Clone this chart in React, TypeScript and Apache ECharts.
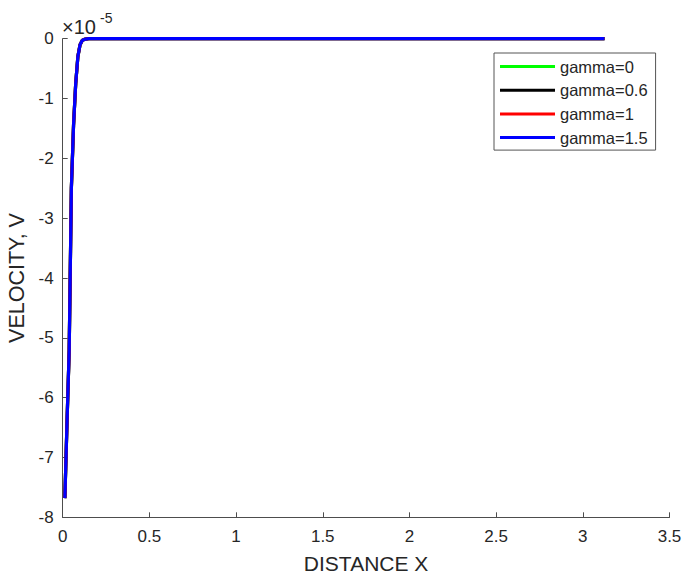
import React, { useEffect, useRef } from "react";
import * as echarts from "echarts";

const xValues = [0.0125, 0.025, 0.0375, 0.05, 0.0625, 0.075, 0.0875, 0.1, 0.1125, 0.125, 0.15, 0.2, 0.3, 0.5, 1.0, 1.5, 2.0, 2.5, 3.0, 3.125];
const vGamma0 = [-7.68, -6.4, -5.2, -2.5, -1.45, -0.75, -0.3, -0.1, -0.03, -0.01, 0, 0, 0, 0, 0, 0, 0, 0, 0, 0];
const vGamma06 = [-7.68, -6.4, -5.2, -2.5, -1.45, -0.75, -0.3, -0.1, -0.03, -0.01, 0, 0, 0, 0, 0, 0, 0, 0, 0, 0];
const vGamma1 = [-7.68, -6.4, -5.2, -2.5, -1.45, -0.75, -0.3, -0.1, -0.03, -0.01, 0, 0, 0, 0, 0, 0, 0, 0, 0, 0];
const vGamma15 = [-7.68, -6.4, -5.2, -2.5, -1.45, -0.75, -0.3, -0.1, -0.03, -0.01, 0, 0, 0, 0, 0, 0, 0, 0, 0, 0];

const seriesNames = ["gamma=0", "gamma=0.6", "gamma=1", "gamma=1.5"];
const seriesColors = ["#00ff00", "#000000", "#ff0000", "#0000ff"];
const seriesValues = [vGamma0, vGamma06, vGamma1, vGamma15];

const FONT = "'Liberation Sans', Arial, Helvetica, sans-serif";
const TEXT = "#262626";
const AXIS = "#4d4d4d";

export default function App() {
  const ref = useRef<HTMLDivElement>(null);
  useEffect(() => {
    if (!ref.current) return;
    const chart = echarts.init(ref.current, undefined, { renderer: "svg" });
    chart.setOption({
      animation: false,
      backgroundColor: "#ffffff",
      grid: { left: 62.7, right: 14.5, top: 38.7, bottom: 57.7, containLabel: false, outerBoundsMode: "none" },
      xAxis: {
        type: "value",
        min: 0,
        max: 3.5,
        interval: 0.5,
        name: "DISTANCE X",
        nameLocation: "middle",
        nameGap: 36,
        nameTextStyle: { color: TEXT, fontSize: 21, fontFamily: FONT },
        axisLine: { show: true, onZero: false, lineStyle: { color: AXIS, width: 1 } },
        axisTick: { show: true, inside: true, length: 5, lineStyle: { color: AXIS } },
        axisLabel: { color: TEXT, fontSize: 17, fontFamily: FONT, margin: 11 },
        splitLine: { show: false },
      },
      yAxis: {
        type: "value",
        min: -8,
        max: 0,
        interval: 1,
        name: "VELOCITY, V",
        nameLocation: "middle",
        nameGap: 34,
        nameRotate: 90,
        nameTextStyle: { color: TEXT, fontSize: 21.5, fontFamily: FONT },
        axisLine: { show: true, onZero: false, lineStyle: { color: AXIS, width: 1 } },
        axisTick: { show: true, inside: true, length: 5, lineStyle: { color: AXIS } },
        axisLabel: { color: TEXT, fontSize: 17, fontFamily: FONT, margin: 9 },
        splitLine: { show: false },
      },
      legend: {
        orient: "vertical",
        left: 494,
        top: 53,
        padding: [5, 8, 4, 6],
        itemGap: 6.7,
        itemWidth: 55,
        itemHeight: 3,
        icon: "rect",
        backgroundColor: "#ffffff",
        borderColor: "#555555",
        borderWidth: 1,
        borderRadius: 0,
        textStyle: { color: TEXT, fontSize: 16.5, fontFamily: FONT, lineHeight: 17 },
        data: seriesNames,
      },
      graphic: [
        {
          type: "text",
          left: 62,
          top: 17,
          style: { text: "×10", fontSize: 20, fontFamily: FONT, fill: TEXT },
        },
        {
          type: "text",
          left: 100,
          top: 11,
          style: { text: "-5", fontSize: 14, fontFamily: FONT, fill: TEXT },
        },
      ],
      series: seriesNames.map((name, i) => ({
        name,
        type: "line",
        data: xValues.map((x, j) => [x, seriesValues[i][j]]),
        showSymbol: false,
        symbol: "none",
        lineStyle: { color: seriesColors[i], width: 3.2 },
        itemStyle: { color: seriesColors[i] },
        z: 2 + i,
      })),
    });
    return () => chart.dispose();
  }, []);
  return (
    <div
      ref={ref}
      style={{ position: "fixed", left: 0, top: 0, width: 684, height: 575, background: "#fff" }}
    />
  );
}
